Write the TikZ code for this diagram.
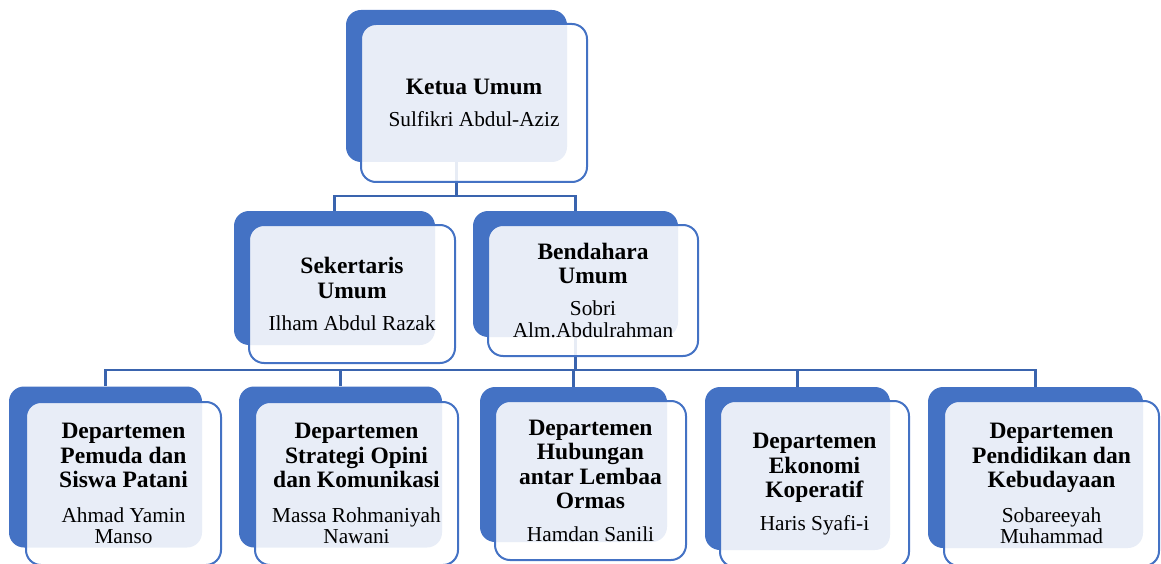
\documentclass[tikz,border=0pt]{standalone}
\usepackage{fontspec}
\setmainfont{Liberation Serif}
\usetikzlibrary{backgrounds}
\definecolor{boxblue}{HTML}{4472C4}
\definecolor{lineblue}{HTML}{3A64AE}
\newcommand{\nm}{\fontsize{21.3}{22.5}\selectfont}
\begin{document}
\begin{tikzpicture}[x=1pt, y=-1pt,
  back/.style={fill=boxblue, rounded corners=15pt, inner sep=0pt},
  front/.style={draw=boxblue, line width=2pt, fill=white, fill opacity=0.88, text opacity=1,
    rounded corners=15pt, align=center, inner sep=0pt, font=\fontsize{23.5}{24.5}\selectfont},
  conn/.style={draw=lineblue, line width=2.5pt}]
\useasboundingbox (0,0) rectangle (1161,564);
\clip (0,0) rectangle (1161,564);
\coordinate (bus1) at (0,196);
\coordinate (bus2) at (0,370);

\node[back, minimum width=221pt, minimum height=152pt] (ketuaB) at (456.5,86) {};
\node[front, minimum width=226pt, minimum height=158pt] (ketua) at (474,103)
  {\textbf{Ketua Umum}\\[8pt]\nm Sulfikri Abdul-Aziz};

\node[back, minimum width=201pt, minimum height=134pt] (sekB) at (334.5,278) {};
\node[front, minimum width=206pt, minimum height=138pt] (sek) at (352,294)
  {\textbf{Sekertaris}\\\textbf{Umum}\\[8pt]\nm Ilham Abdul Razak};
\node[back, minimum width=205pt, minimum height=126pt] (benB) at (575.5,274) {};
\node[front, minimum width=210pt, minimum height=131pt] (ben) at (593,290.5)
  {\textbf{Bendahara}\\\textbf{Umum}\\[7pt]\nm Sobri\\[-2pt]\nm Alm.Abdulrahman};

\node[back, minimum width=193pt, minimum height=161pt] (pemB) at (105.5,467) {};
\node[front, minimum width=195pt, minimum height=163pt] (pem) at (123.5,483.5)
  {\textbf{Departemen}\\\textbf{Pemuda dan}\\\textbf{Siswa Patani}\\[10pt]\nm Ahmad Yamin\\[-3pt]\nm Manso};
\node[back, minimum width=203pt, minimum height=161pt] (strB) at (340.5,467) {};
\node[front, minimum width=203pt, minimum height=163pt] (str) at (356.5,483.5)
  {\textbf{Departemen}\\\textbf{Strategi Opini}\\\textbf{dan Komunikasi}\\[10pt]\nm Massa Rohmaniyah\\[-3pt]\nm Nawani};
\node[back, minimum width=187pt, minimum height=155pt] (hubB) at (573.5,464.5) {};
\node[front, minimum width=191pt, minimum height=159pt] (hub) at (590.5,480.5)
  {\textbf{Departemen}\\\textbf{Hubungan}\\\textbf{antar Lembaa}\\\textbf{Ormas}\\[8pt]\nm Hamdan Sanili};
\node[back, minimum width=185pt, minimum height=163pt] (ekoB) at (797.5,468.5) {};
\node[front, minimum width=189pt, minimum height=166pt] (eko) at (814.5,484)
  {\textbf{Departemen}\\\textbf{Ekonomi}\\\textbf{Koperatif}\\[8pt]\nm Haris Syafi-i};
\node[back, minimum width=215pt, minimum height=161pt] (penB) at (1035.5,467.5) {};
\node[front, minimum width=215pt, minimum height=165pt] (pen) at (1051.5,483.5)
  {\textbf{Departemen}\\\textbf{Pendidikan dan}\\\textbf{Kebudayaan}\\[10pt]\nm Sobareeyah\\[-3pt]\nm Muhammad};

\begin{scope}[on background layer]
\draw[conn] (ketuaB.south) |- (sekB.north |- bus1) -- (sekB.north);
\draw[conn] (ketuaB.south) |- (benB.north |- bus1) -- (benB.north);
\draw[conn] (benB.south) |- (pemB.north |- bus2) -- (pemB.north);
\draw[conn] (benB.south) |- (strB.north |- bus2) -- (strB.north);
\draw[conn] (benB.south) |- (hubB.north |- bus2) -- (hubB.north);
\draw[conn] (benB.south) |- (ekoB.north |- bus2) -- (ekoB.north);
\draw[conn] (benB.south) |- (penB.north |- bus2) -- (penB.north);
\end{scope}
\end{tikzpicture}
\end{document}
